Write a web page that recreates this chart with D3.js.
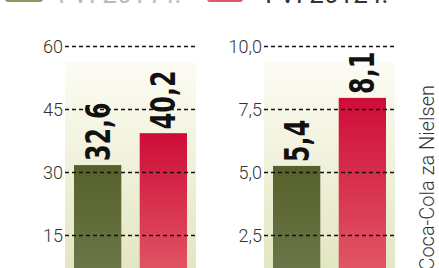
<!DOCTYPE html>
<html>
<head>
<meta charset="utf-8">
<script src="https://cdn.jsdelivr.net/npm/d3@7"></script>
<style>
  html, body { margin: 0; padding: 0; background: #fff; }
  svg { display: block; }
</style>
</head>
<body>
<div id="chart"></div>
<script>
const W = 439, H = 268

// dane
const periods = ['I-VI 2011 r.', 'I-VI 2012 r.']
const leftValues = [32.6, 40.2]
const rightValues = [5.4, 8.1]
const leftTicks = [15, 30, 45, 60]
const rightTicks = [2.5, 5.0, 7.5, 10.0]
const source = 'Coca-Cola za Nielsen'

const svg = d3.select('#chart').append('svg')
  .attr('width', W).attr('height', H)

const defs = svg.append('defs')
function grad(id, top, bottom) {
  const g = defs.append('linearGradient').attr('id', id)
    .attr('x1', 0).attr('y1', 0).attr('x2', 0).attr('y2', 1)
  g.append('stop').attr('offset', '0%').attr('stop-color', top)
  g.append('stop').attr('offset', '100%').attr('stop-color', bottom)
}
grad('gGreen', '#55602a', '#727d52')
grad('gRed', '#cf0c38', '#e4646e')
grad('gBg', '#fdfcf4', '#e3e6c2')

const colors = ['url(#gGreen)', 'url(#gRed)']
const thin = 'Roboto, Liberation Sans, Arial, sans-serif'

// legenda (ucięta u góry)
const legend = svg.append('g')
legend.append('rect').attr('x', 5).attr('y', -12).attr('width', 38).attr('height', 14)
  .attr('rx', 3).attr('fill', '#8c9a62')
legend.append('rect').attr('x', 207).attr('y', -12).attr('width', 36).attr('height', 14)
  .attr('rx', 3).attr('fill', '#e0566a')
legend.selectAll('text.leg').data(periods).join('text')
  .attr('class', 'leg')
  .attr('x', (d, i) => i ? 265 : 58)
  .attr('y', 3)
  .attr('font-family', thin)
  .attr('font-size', 26)
  .attr('fill', (d, i) => i ? '#333' : '#bbb')
  .text(d => d)

function panel(x0, x1, values, ticks, fmt, max) {
  const y = d3.scaleLinear().domain([0, max]).range([298, 46])
  const x = d3.scaleBand().domain(periods).range([x0 + 9, x1 - 9]).paddingInner(0.28).paddingOuter(0)
  const g = svg.append('g')

  g.append('rect').attr('x', x0).attr('y', 62).attr('width', x1 - x0).attr('height', H - 62)
    .attr('fill', 'url(#gBg)')

  g.selectAll('rect.bar').data(values).join('rect')
    .attr('class', 'bar')
    .attr('x', (d, i) => x(periods[i]))
    .attr('width', x.bandwidth())
    .attr('y', d => y(d) + 4)
    .attr('height', d => y(0) - y(d))
    .attr('fill', (d, i) => colors[i])

  const axis = d3.axisLeft(y).tickValues(ticks).tickSize(-(x1 - x0)).tickFormat(fmt)
  const ax = g.append('g').attr('transform', `translate(${x0},0)`).call(axis)
  ax.select('.domain').remove()
  ax.selectAll('.tick line')
    .attr('stroke', '#111').attr('stroke-width', 1.4).attr('stroke-dasharray', '4,3')
  ax.selectAll('.tick text')
    .attr('x', -2).attr('dy', '0.36em')
    .attr('font-family', thin).attr('font-weight', 300)
    .attr('font-size', 18).attr('fill', '#333')

  // wartości: pogrubione, zwężone, obrócone
  g.selectAll('text.val').data(values).join('text')
    .attr('class', 'val')
    .attr('transform', (d, i) => `translate(${x(periods[i]) + x.bandwidth() / 2 + 12},${y(d)}) rotate(-90) scale(0.72,1)`)
    .attr('font-family', 'DejaVu Sans, sans-serif')
    .attr('font-weight', 'bold')
    .attr('font-size', 33)
    .attr('fill', '#111')
    .text(d => d3.format('.1f')(d).replace('.', ','))
}

const comma = f => v => d3.format(f)(v).replace('.', ',')
panel(65, 196, leftValues, leftTicks, comma('d'), 60)
panel(264, 395, rightValues, rightTicks, comma('.1f'), 10)

svg.append('text')
  .attr('transform', 'translate(434,85) rotate(-90)')
  .attr('text-anchor', 'end')
  .attr('font-family', thin)
  .attr('font-weight', 300)
  .attr('font-size', 20)
  .attr('fill', '#333')
  .text(source)
</script>
</body>
</html>
